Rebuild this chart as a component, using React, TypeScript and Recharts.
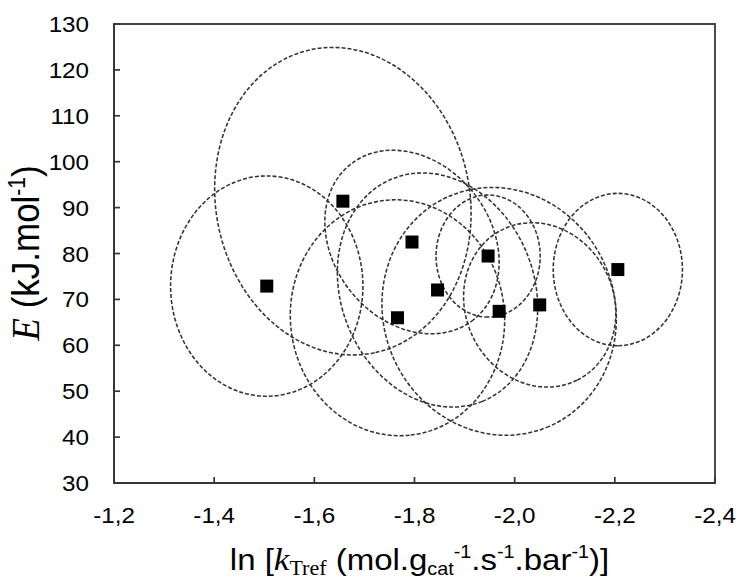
import React from 'react';
import { ScatterChart, Scatter, XAxis, YAxis, ReferenceArea } from 'recharts';

// ---- data ----
const lnK = [-1.505, -1.657, -1.795, -1.766, -1.846, -1.947, -1.969, -2.05, -2.206];
const energy = [72.9, 91.4, 82.5, 66.0, 72.05, 79.45, 67.4, 68.8, 76.5];
// confidence-region half widths / heights and correlation
const lnKHalfWidth = [0.192, 0.256, 0.174, 0.214, 0.2, 0.104, 0.234, 0.152, 0.129];
const energyHalfHeight = [24.0, 33.5, 20.0, 25.7, 25.5, 13.3, 27.0, 17.9, 16.6];
const correlation = [0, 0.08, 0.22, 0.02, 0.15, 0, 0.06, 0.1, 0];

const xTicks = [-1.2, -1.4, -1.6, -1.8, -2.0, -2.2, -2.4];
const xTickLabels = ['-1,2', '-1,4', '-1,6', '-1,8', '-2,0', '-2,2', '-2,4'];
const yTicks = [30, 40, 50, 60, 70, 80, 90, 100, 110, 120, 130];
const yTickLabels = ['30', '40', '50', '60', '70', '80', '90', '100', '110', '120', '130'];

const points = lnK.map((x, i) => ({ x, y: energy[i] }));
const ellipses = lnK.map((x, i) => ({
  rho: correlation[i],
  data: [
    { x, y: energy[i] },
    { x: x + lnKHalfWidth[i], y: energy[i] },
    { x, y: energy[i] + energyHalfHeight[i] },
  ],
}));

// ---- layout (svg covers the whole page) ----
const CHART_W = 739;
const CHART_H = 579;
const MARGIN = { top: 24, right: 24, bottom: 46, left: 54 };
const Y_AXIS_W = 60;
const X_AXIS_H = 50;
const PLOT_LEFT = MARGIN.left + Y_AXIS_W;
const PLOT_RIGHT = CHART_W - MARGIN.right;
const PLOT_BOTTOM = CHART_H - MARGIN.bottom - X_AXIS_H;

const SANS = '"Liberation Sans", Arial, sans-serif';
const SERIF = '"Liberation Serif", "Times New Roman", serif';
const AXIS = '#363636';
const STRETCH = 1.1;

const findIdx = (arr: number[], v: number) => arr.findIndex((t) => Math.abs(t - v) < 1e-9);

const XTick = (props: any) => {
  const { payload } = props;
  const x = payload && payload.coordinate != null ? payload.coordinate : props.x;
  const y = PLOT_BOTTOM;
  const i = findIdx(xTicks, payload.value);
  const label = i >= 0 ? xTickLabels[i] : String(payload.value);
  return (
    <g>
      <line x1={x} y1={y} x2={x} y2={y - 6} stroke={AXIS} strokeWidth={1.7} />
      <g transform={`translate(${x},${y + 40}) scale(${STRETCH},1)`}>
        <text x={0} y={0} textAnchor="middle" fontFamily={SANS} fontSize={22} fill="#000">
          {label}
        </text>
      </g>
    </g>
  );
};

const YTick = (props: any) => {
  const { payload } = props;
  const y = payload && payload.coordinate != null ? payload.coordinate : props.y;
  const x = PLOT_LEFT;
  const i = findIdx(yTicks, payload.value);
  const label = i >= 0 ? yTickLabels[i] : String(payload.value);
  return (
    <g>
      <line x1={x} y1={y} x2={x + 6} y2={y} stroke={AXIS} strokeWidth={1.7} />
      <g transform={`translate(${x - 25},${y + 8}) scale(${STRETCH},1)`}>
        <text x={0} y={0} textAnchor="end" fontFamily={SANS} fontSize={22} fill="#000">
          {label}
        </text>
      </g>
    </g>
  );
};

const XLabel = () => {
  const cx = PLOT_LEFT + (PLOT_RIGHT - PLOT_LEFT) / 2 + 5;
  const y = PLOT_BOTTOM + 87;
  return (
    <g transform={`translate(${cx},${y}) scale(${STRETCH},1)`}>
      <text x={0} y={0} textAnchor="middle" fontFamily={SANS} fontSize={30} fill="#000">
        <tspan>ln [</tspan>
        <tspan fontFamily={SERIF} fontStyle="italic" fontSize={32}>k</tspan>
        <tspan fontFamily={SERIF} fontSize={20} dy={5}>Tref</tspan>
        <tspan dy={-5}> (mol.g</tspan>
        <tspan fontSize={18} dy={5}>cat</tspan>
        <tspan fontSize={18} dy={-17}>-1</tspan>
        <tspan dy={12}>.s</tspan>
        <tspan fontSize={18} dy={-12}>-1</tspan>
        <tspan dy={12}>.bar</tspan>
        <tspan fontSize={18} dy={-12}>-1</tspan>
        <tspan dy={12}>)]</tspan>
      </text>
    </g>
  );
};

const YLabel = () => {
  const cy = 253;
  const x = 39;
  return (
    <g transform={`translate(${x},${cy}) rotate(-90) scale(1,${STRETCH})`}>
      <text x={0} y={0} textAnchor="middle" fontFamily={SANS} fontSize={35} fill="#000">
        <tspan fontFamily={SERIF} fontStyle="italic" fontSize={37}>E</tspan>
        <tspan> (kJ.mol</tspan>
        <tspan fontSize={21} dy={-13}>-1</tspan>
        <tspan dy={13}>)</tspan>
      </text>
    </g>
  );
};

const makeEllipseLine = (rho: number) => (props: any) => {
  const pts = props.points || [];
  if (pts.length < 3) return <g />;
  const [c, px, py] = pts;
  const W = Math.abs(px.x - c.x);
  const H = Math.abs(py.y - c.y);
  const sgn = Math.sign(px.x - c.x) * Math.sign(py.y - c.y) || 1;
  const r = rho * sgn;
  const sxx = W * W;
  const syy = H * H;
  const sxy = r * W * H;
  const theta = 0.5 * Math.atan2(2 * sxy, sxx - syy);
  const mid = (sxx + syy) / 2;
  const tmp = Math.sqrt(((sxx - syy) / 2) ** 2 + sxy * sxy);
  const a = Math.sqrt(Math.max(mid + tmp, 0));
  const b = Math.sqrt(Math.max(mid - tmp, 0));
  const deg = (theta * 180) / Math.PI;
  return (
    <ellipse
      cx={c.x}
      cy={c.y}
      rx={a}
      ry={b}
      transform={`rotate(${deg} ${c.x} ${c.y})`}
      fill="none"
      stroke="#333333"
      strokeWidth={1.55}
      strokeDasharray="4 2"
    />
  );
};

const Square = (props: any) => {
  const { cx, cy } = props;
  if (cx == null || cy == null) return <g />;
  return <rect x={cx - 6.5} y={cy - 6.5} width={13} height={13} fill="#000" />;
};

export default function App() {
  return (
    <div style={{ position: 'absolute', left: 0, top: 0, width: CHART_W, height: CHART_H }}>
      <ScatterChart width={CHART_W} height={CHART_H} margin={MARGIN}>
        <XAxis
          dataKey="x"
          type="number"
          domain={[-2.4, -1.2]}
          reversed
          ticks={xTicks}
          interval={0}
          allowDataOverflow
          tick={(p: any) => <XTick {...p} />}
          tickLine={false}
          tickSize={0}
          tickMargin={0}
          axisLine={{ stroke: AXIS, strokeWidth: 2 }}
          height={X_AXIS_H}
          label={{ content: () => <XLabel /> }}
        />
        <YAxis
          dataKey="y"
          type="number"
          domain={[30, 130]}
          ticks={yTicks}
          interval={0}
          allowDataOverflow
          tick={(p: any) => <YTick {...p} />}
          tickLine={false}
          tickSize={0}
          tickMargin={0}
          axisLine={{ stroke: AXIS, strokeWidth: 2 }}
          width={Y_AXIS_W}
          label={{ content: () => <YLabel /> }}
        />
        <ReferenceArea
          x1={-1.2}
          x2={-2.4}
          y1={30}
          y2={130}
          fill="none"
          fillOpacity={0}
          stroke="#444444"
          strokeWidth={1.9}
        />
        {ellipses.map((e, i) => (
          <Scatter
            key={`ell-${i}`}
            data={e.data}
            line={makeEllipseLine(e.rho)}
            lineType="joint"
            shape={() => <g />}
            isAnimationActive={false}
          />
        ))}
        <Scatter data={points} shape={(p: any) => <Square {...p} />} isAnimationActive={false} />
      </ScatterChart>
    </div>
  );
}
